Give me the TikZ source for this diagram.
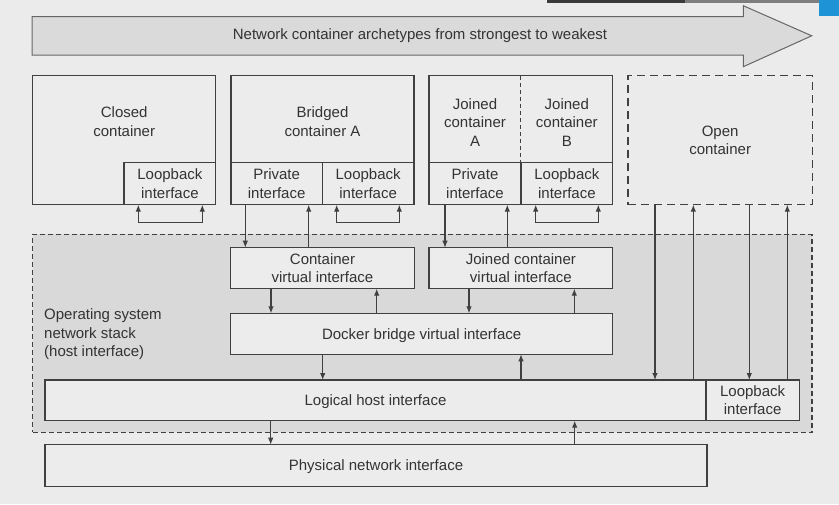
\documentclass[tikz,border=0pt]{standalone}
\usepackage{fontspec}
\setmainfont{Liberation Sans}
\usetikzlibrary{arrows.meta}
\definecolor{bgc}{HTML}{EBEBEB}
\definecolor{osc}{HTML}{D9D9D9}
\definecolor{boxc}{HTML}{ECECEC}
\definecolor{arrc}{HTML}{DADADA}
\definecolor{linec}{HTML}{404040}
\definecolor{txtc}{HTML}{333333}
\definecolor{darkbar}{HTML}{3A3A3A}
\definecolor{graybar}{HTML}{7E7E7E}
\definecolor{bluebar}{HTML}{1E93D6}
\newcommand{\bx}[6][]{%
  \node[box,#1,minimum width={#5-#3},minimum height={#6-#4}] (#2) at ({(#3+#5)/2},{(#4+#6)/2}) {};}
\begin{document}
\begin{tikzpicture}[x=1pt,y=-1pt,
  box/.style={draw=linec,line width=1.1pt,fill=boxc,inner sep=0pt,outer sep=0pt},
  lbl/.style={text=txtc,align=center,font=\fontsize{15}{18.5}\selectfont,inner sep=0pt},
  arr/.style={draw=linec,line width=1.1pt,-{Latex[length=7pt,width=5.5pt]}},
  arrb/.style={draw=linec,line width=1.1pt,{Latex[length=7pt,width=5.5pt]}-{Latex[length=7pt,width=5.5pt]}},
  dashbox/.style={dash pattern=on 8pt off 5pt},
  osdash/.style={dash pattern=on 5pt off 3pt}]
\useasboundingbox (0,0) rectangle (839,504);
\fill[bgc] (0,0) rectangle (839,504);
% screen artifacts at top right
\fill[darkbar] (547,0) rectangle (685,3.3);
\fill[graybar] (685,0) rectangle (818.5,3.3);
\fill[bluebar] (818.5,0) rectangle (839,16);
% top arrow
\draw[fill=arrc,draw=linec!80,line width=1pt] (32,16.7) -- (743.3,16.7) -- (743.3,5.7) -- (811.7,35.8) -- (743.3,66.7) -- (743.3,55) -- (32,55) -- cycle;
\node[lbl] (title) at (420,35.8) {Network container archetypes from strongest to weakest};
% OS area
\bx[fill=osc,osdash]{os}{32.7}{234.3}{812}{432.3}
\node[lbl,align=left,anchor=north west] (oslbl) at (44,308.5) {Operating system\\network stack\\(host interface)};
% containers
\bx{closed}{32.7}{75.7}{215.7}{204.7}
\bx{clb}{124}{162.7}{215.7}{204.7}
\node[lbl] (closedt) at (124.2,121.7) {Closed\\container};
\node[lbl] at (clb.center) {Loopback\\interface};
\bx{bridged}{231}{75.7}{414}{204.7}
\bx{bpriv}{231}{162.7}{322.3}{204.7}
\bx{blb}{322.3}{162.7}{414}{204.7}
\node[lbl] (bridgedt) at (322.5,121.7) {Bridged\\container A};
\node[lbl] at (bpriv.center) {Private\\interface};
\node[lbl] at (blb.center) {Loopback\\interface};
\bx{joined}{429}{75.7}{612.7}{204.7}
\draw[linec,line width=1pt,dash pattern=on 4pt off 3pt] (joined.north) -- (joined.north |- 0,162.7) coordinate (jdiv);
\bx{jpriv}{429}{162.7}{521}{204.7}
\bx{jlb}{521}{162.7}{612.7}{204.7}
\node[lbl] (joinedA) at (475,122.3) {Joined\\container\\A};
\node[lbl] (joinedB) at (566.8,122.3) {Joined\\container\\B};
\node[lbl] at (jpriv.center) {Private\\interface};
\node[lbl] at (jlb.center) {Loopback\\interface};
\bx[dashbox,fill=none]{open}{628}{75.7}{812.3}{204.7}
\node[lbl] (opent) at (open.center) {Open\\container};
% inner OS boxes
\bx{cvi}{230.7}{247.7}{414.3}{288.7}
\node[lbl] at (cvi.center) {Container\\virtual interface};
\bx{jvi}{429}{247.7}{612.7}{288.7}
\node[lbl] at (jvi.center) {Joined container\\virtual interface};
\bx{docker}{230.7}{313.3}{612.7}{354.3}
\node[lbl] at ([yshift=-1.5pt]docker.center) {Docker bridge virtual interface};
\bx{logical}{45}{380}{706}{420.7}
\bx{hlb}{706}{380}{799.3}{420.7}
\node[lbl] at ([yshift=-1pt]logical.center) {Logical host interface};
\node[lbl] at (hlb.center) {Loopback\\interface};
\bx{phys}{45}{444.7}{707}{486.7}
\node[lbl] at ([yshift=-1pt]phys.center) {Physical network interface};
% loopback brackets
\draw[arrb] ([xshift=14.3pt]clb.south west) -- ++(0,17.6) -| ([xshift=-13.4pt]clb.south east);
\draw[arrb] ([xshift=14.4pt]blb.south west) -- ++(0,17.6) -| ([xshift=-14.7pt]blb.south east);
\draw[arrb] ([xshift=14.7pt]jlb.south west) -- ++(0,17.6) -| ([xshift=-14.4pt]jlb.south east);
% container to virtual interfaces
\draw[arr] ([xshift=14.3pt]bpriv.south west) -- ([xshift=14.3pt]bpriv.south west |- cvi.north);
\draw[arr] ([xshift=77.7pt]bpriv.south west |- cvi.north) -- ([xshift=77.7pt]bpriv.south west);
\draw[arr] ([xshift=16pt]jpriv.south west) -- ([xshift=16pt]jpriv.south west |- jvi.north);
\draw[arr] ([xshift=78.3pt]jpriv.south west |- jvi.north) -- ([xshift=78.3pt]jpriv.south west);
% virtual interfaces to docker bridge
\draw[arr] ([xshift=40.3pt]cvi.south west) -- ([xshift=40.3pt]cvi.south west |- docker.north);
\draw[arr] ([xshift=146pt]cvi.south west |- docker.north) -- ([xshift=146pt]cvi.south west);
\draw[arr] ([xshift=40pt]jvi.south west) -- ([xshift=40pt]jvi.south west |- docker.north);
\draw[arr] ([xshift=145.3pt]jvi.south west |- docker.north) -- ([xshift=145.3pt]jvi.south west);
% docker bridge to logical
\draw[arr] ([xshift=92pt]docker.south west) -- ([xshift=92pt]docker.south west |- logical.north);
\draw[arr] ([xshift=290.3pt]docker.south west |- logical.north) -- ([xshift=290.3pt]docker.south west);
% open container
\draw[arr] ([xshift=27pt]open.south west) -- ([xshift=27pt]open.south west |- logical.north);
\draw[arr] ([xshift=65.3pt]open.south west |- logical.north) -- ([xshift=65.3pt]open.south west);
\draw[arr] ([xshift=121.3pt]open.south west) -- ([xshift=121.3pt]open.south west |- hlb.north);
\draw[arr] ([xshift=159.3pt]open.south west |- hlb.north) -- ([xshift=159.3pt]open.south west);
% logical to physical
\draw[arr] ([xshift=225.7pt]logical.south west) -- ([xshift=225.7pt]logical.south west |- phys.north);
\draw[arr] ([xshift=529.7pt]logical.south west |- phys.north) -- ([xshift=529.7pt]logical.south west);
\end{tikzpicture}
\end{document}
